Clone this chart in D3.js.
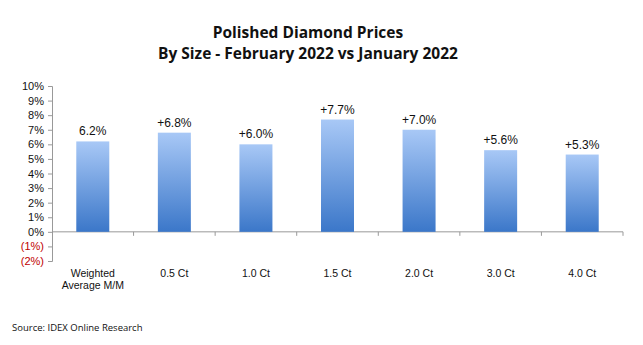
<!DOCTYPE html>
<html>
<head>
<meta charset="utf-8">
<script src="https://cdn.jsdelivr.net/npm/d3@7"></script>
<style>
  body { margin: 0; background: #fff; }
  svg { display: block; }
</style>
</head>
<body>
<div id="chart"></div>
<script>
// chart values
var categories = ["Weighted|Average M/M", "0.5 Ct", "1.0 Ct", "1.5 Ct", "2.0 Ct", "3.0 Ct", "4.0 Ct"];
var values = [6.2, 6.8, 6.0, 7.7, 7.0, 5.6, 5.3];
var valueLabels = ["6.2%", "+6.8%", "+6.0%", "+7.7%", "+7.0%", "+5.6%", "+5.3%"];
var yTicks = [-2, -1, 0, 1, 2, 3, 4, 5, 6, 7, 8, 9, 10];

var svgWidth = 643, svgHeight = 345;
var margin = { left: 52, top: 86 };
var width = 623 - margin.left;
var height = 261 - margin.top;

var svg = d3.select("#chart").append("svg")
  .attr("width", svgWidth)
  .attr("height", svgHeight);

// gradient for bars
var grad = svg.append("defs").append("linearGradient")
  .attr("id", "barGrad")
  .attr("x1", 0).attr("y1", 0).attr("x2", 0).attr("y2", 1);
grad.append("stop").attr("offset", "0%").attr("stop-color", "#a8c8f6");
grad.append("stop").attr("offset", "100%").attr("stop-color", "#3b77c9");

// title
var title = svg.append("text")
  .attr("text-anchor", "middle")
  .style("font-family", "'Open Sans', Lato, sans-serif")
  .style("font-weight", "bold")
  .style("font-size", "15.5px")
  .attr("fill", "#111");
title.append("tspan").attr("x", 308).attr("y", 38).text("Polished Diamond Prices");
title.append("tspan").attr("x", 308).attr("y", 59).text("By Size - February 2022 vs January 2022");

var chartGroup = svg.append("g")
  .attr("transform", `translate(${margin.left}, ${margin.top})`);

// x scale: one band per category, bars centred in each band
var xScale = d3.scaleBand()
  .domain(categories)
  .range([0, width]);

var yScale = d3.scaleLinear()
  .domain([-2, 10])
  .range([height, 0]);

// y axis
var leftAxis = d3.axisLeft(yScale)
  .tickValues(yTicks)
  .tickSize(4)
  .tickPadding(4)
  .tickFormat(d => d < 0 ? "(" + (-d) + "%)" : d + "%");

var yAxis = chartGroup.append("g").call(leftAxis);
yAxis.select(".domain").attr("stroke", "#999");
yAxis.selectAll(".tick line").attr("stroke", "#999");
yAxis.selectAll(".tick text")
  .style("font-family", "'Liberation Sans', Arial, sans-serif")
  .style("font-size", "11px")
  .attr("fill", d => d < 0 ? "#c00000" : "#111");

// x axis at zero, with ticks between categories
chartGroup.append("line")
  .attr("x1", 0).attr("x2", width)
  .attr("y1", yScale(0)).attr("y2", yScale(0))
  .attr("stroke", "#999");
chartGroup.selectAll(".xtick")
  .data(categories)
  .enter()
  .append("line")
  .attr("x1", d => xScale(d) + xScale.bandwidth())
  .attr("x2", d => xScale(d) + xScale.bandwidth())
  .attr("y1", yScale(0)).attr("y2", yScale(0) + 4)
  .attr("stroke", "#999");

// bars
var barW = 33;
var cx = (i) => xScale(categories[i]) + xScale.bandwidth() / 2;
chartGroup.selectAll("rect.bar")
  .data(values)
  .enter()
  .append("rect")
  .attr("class", "bar")
  .attr("x", (d, i) => cx(i) - barW / 2)
  .attr("width", barW)
  .attr("y", d => yScale(d))
  .attr("height", d => yScale(0) - yScale(d))
  .attr("fill", "url(#barGrad)");

// value labels
chartGroup.selectAll("text.val")
  .data(values)
  .enter()
  .append("text")
  .attr("class", "val")
  .attr("x", (d, i) => cx(i))
  .attr("y", d => yScale(d) - 6)
  .attr("text-anchor", "middle")
  .style("font-family", "'Liberation Sans', Arial, sans-serif")
  .style("font-size", "12px")
  .attr("fill", "#111")
  .text((d, i) => valueLabels[i]);

// category labels
chartGroup.selectAll("text.cat")
  .data(categories)
  .enter()
  .append("text")
  .attr("class", "cat")
  .attr("text-anchor", "middle")
  .style("font-family", "'Liberation Sans', Arial, sans-serif")
  .style("font-size", "10.5px")
  .attr("fill", "#111")
  .each(function(d, i) {
    var t = d3.select(this);
    d.split("|").forEach(function(line, j) {
      t.append("tspan")
        .attr("x", cx(i))
        .attr("y", 191 + j * 12)
        .text(line);
    });
  });

// source
svg.append("text")
  .attr("x", 12)
  .attr("y", 331)
  .style("font-family", "'Open Sans', Lato, sans-serif")
  .style("font-size", "9.5px")
  .attr("fill", "#111")
  .text("Source:  IDEX Online Research");
</script>
</body>
</html>
